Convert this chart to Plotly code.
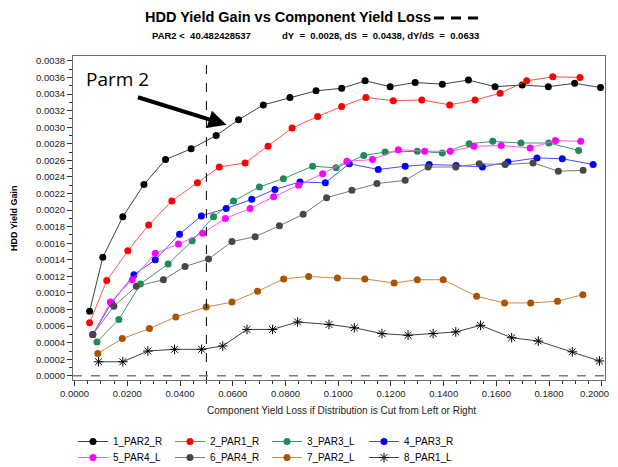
import plotly.graph_objects as go

# ---------------- data ----------------
names = ["1_PAR2_R", "2_PAR1_R", "3_PAR3_L", "4_PAR3_R",
         "5_PAR4_L", "6_PAR4_R", "7_PAR2_L", "8_PAR1_L"]

x1 = [0.0057, 0.0107, 0.0183, 0.0263, 0.0345, 0.0442, 0.0537, 0.0622, 0.0716, 0.0817, 0.0916,
      0.1013, 0.1102, 0.1197, 0.1292, 0.1395, 0.1494, 0.1595, 0.1698, 0.1797, 0.1897, 0.1995]
y1 = [0.00078, 0.00143, 0.00192, 0.00231, 0.00261, 0.00274, 0.00290, 0.00309, 0.00327, 0.00336, 0.00344,
      0.00347, 0.00356, 0.00349, 0.00354, 0.00352, 0.00357, 0.00349, 0.00351, 0.00349, 0.00353, 0.00348]

x2 = [0.0057, 0.0122, 0.0202, 0.0281, 0.0369, 0.0466, 0.0549, 0.0647, 0.0734, 0.0825, 0.0922,
      0.1013, 0.1105, 0.1209, 0.1317, 0.1423, 0.1519, 0.1614, 0.1715, 0.1814, 0.1917]
y2 = [0.00064, 0.00115, 0.00151, 0.00182, 0.00211, 0.00233, 0.00252, 0.00257, 0.00277, 0.00299, 0.00313,
      0.00325, 0.00336, 0.00332, 0.00333, 0.00327, 0.00333, 0.00341, 0.00356, 0.00361, 0.00360]

x3 = [0.0085, 0.0168, 0.0250, 0.0355, 0.0446, 0.0527, 0.0603, 0.0701, 0.0792, 0.0903,
      0.0992, 0.1097, 0.1178, 0.1300, 0.1395, 0.1497, 0.1586, 0.1693, 0.1799, 0.1912]
y3 = [0.00041, 0.00068, 0.00111, 0.00135, 0.00163, 0.00192, 0.00211, 0.00228, 0.00238, 0.00253,
      0.00251, 0.00266, 0.00270, 0.00271, 0.00269, 0.00280, 0.00283, 0.00281, 0.00281, 0.00272]

x4 = [0.0069, 0.0140, 0.0225, 0.0306, 0.0398, 0.0481, 0.0575, 0.0672, 0.0760, 0.0855, 0.0951,
      0.1042, 0.1152, 0.1254, 0.1345, 0.1447, 0.1547, 0.1644, 0.1754, 0.1850, 0.1967]
y4 = [0.00050, 0.00088, 0.00122, 0.00140, 0.00171, 0.00193, 0.00202, 0.00213, 0.00225, 0.00234, 0.00233,
      0.00256, 0.00249, 0.00253, 0.00255, 0.00254, 0.00252, 0.00258, 0.00263, 0.00262, 0.00255]

x5 = [0.0069, 0.0136, 0.0219, 0.0306, 0.0394, 0.0486, 0.0572, 0.0666, 0.0755, 0.0850, 0.0941,
      0.1033, 0.1130, 0.1228, 0.1328, 0.1425, 0.1515, 0.1618, 0.1728, 0.1824, 0.1920]
y5 = [0.00050, 0.00089, 0.00116, 0.00148, 0.00159, 0.00172, 0.00190, 0.00202, 0.00216, 0.00230, 0.00244,
      0.00259, 0.00261, 0.00273, 0.00271, 0.00271, 0.00277, 0.00278, 0.00275, 0.00284, 0.00283]

x6 = [0.0069, 0.0149, 0.0234, 0.0337, 0.0419, 0.0508, 0.0597, 0.0685, 0.0777, 0.0867, 0.0956,
      0.1052, 0.1147, 0.1254, 0.1341, 0.1446, 0.1535, 0.1633, 0.1739, 0.1835, 0.1929]
y6 = [0.00050, 0.00084, 0.00108, 0.00116, 0.00132, 0.00141, 0.00162, 0.00168, 0.00181, 0.00195, 0.00215,
      0.00224, 0.00232, 0.00236, 0.00252, 0.00252, 0.00256, 0.00255, 0.00257, 0.00247, 0.00248]

x7 = [0.0088, 0.0181, 0.0284, 0.0384, 0.0499, 0.0597, 0.0694, 0.0793, 0.0888, 0.0997,
      0.1101, 0.1212, 0.1300, 0.1398, 0.1525, 0.1631, 0.1730, 0.1832, 0.1928]
y7 = [0.00027, 0.00045, 0.00057, 0.00071, 0.00083, 0.00089, 0.00102, 0.00117, 0.00120, 0.00118,
      0.00117, 0.00112, 0.00116, 0.00116, 0.00096, 0.00088, 0.00088, 0.00090, 0.00098]

x8 = [0.0091, 0.0183, 0.0278, 0.0379, 0.0482, 0.0562, 0.0654, 0.0751, 0.0846, 0.0965,
      0.1061, 0.1166, 0.1265, 0.1360, 0.1446, 0.1540, 0.1658, 0.1759, 0.1888, 0.1991]
y8 = [0.00017, 0.00017, 0.00030, 0.00032, 0.00032, 0.00036, 0.00056, 0.00056, 0.00065, 0.00062,
      0.00058, 0.00051, 0.00049, 0.00051, 0.00053, 0.00061, 0.00046, 0.00042, 0.00029, 0.00018]

x_ticks = [0.0, 0.02, 0.04, 0.06, 0.08, 0.10, 0.12, 0.14, 0.16, 0.18, 0.20]
y_ticks = [i * 0.0002 for i in range(20)]
cutoff_x = 0.05
arrow_target = (0.0576, 0.00303)

title = "HDD Yield Gain vs Component Yield Loss"
NB = "\u00a0"
sub_left = "PAR2 &lt;" + NB * 2 + "40.482428537"
sub_right = ("dY" + NB * 2 + "=" + NB * 2 + "0.0028," + NB + "dS" + NB * 2 + "=" + NB * 2 +
             "0.0438," + NB + "dY/dS" + NB * 2 + "=" + NB * 2 + "0.0633")
x_title = "Component Yield Loss if Distribution is Cut from Left or Right"
y_title = "HDD Yield Gain"

# ---------------- styles ----------------
xs = [x1, x2, x3, x4, x5, x6, x7, x8]
ys = [y1, y2, y3, y4, y5, y6, y7, y8]
marker_colors = ["#000000", "#ff0000", "#1f8a57", "#0000ff",
                 "#ff00ff", "#474747", "#a95400", "#000000"]
line_colors = ["#404040", "#ff5050", "#3a9a6a", "#4a4aff",
               "#ff55ff", "#7a7a7a", "#c98a4a", "#404040"]

FONT = "Liberation Sans, Arial, sans-serif"

fig = go.Figure()
for i in range(8):
    star = (i == 7)
    fig.add_trace(go.Scatter(
        x=xs[i], y=ys[i], name=names[i], mode="lines+markers",
        line=dict(color=line_colors[i], width=1),
        marker=dict(
            color=marker_colors[i],
            size=8 if star else 7,
            symbol="asterisk-open" if star else "circle",
            line=dict(color=marker_colors[i], width=1 if star else 0),
        ),
        legend="legend" if i < 4 else "legend2",
    ))

# the page body adds an 8px offset; positions below are given in page pixels
OFF = 8
W, H = 618 - OFF, 467 - OFF
L, R = 73 - OFF, 13
T = 56 - OFF
B = H - (380 - OFF)
pw, ph = W - L - R, H - T - B

def px_x(p):
    return (p - OFF - L) / pw

def px_y(p):
    return (H - B - (p - OFF)) / ph

TICKFONT = dict(family=FONT, size=9.5, color="#222222")
axis_common = dict(
    showgrid=False, zeroline=False, showline=True, mirror=True,
    linecolor="#6e6e6e", linewidth=1, ticks="outside", ticklen=5,
    tickcolor="#333333", tickfont=TICKFONT,
)

# last x label would overflow the page edge; it is drawn as an annotation nudged left
x_ticktext = [f"{v:.4f}" for v in x_ticks[:-1]] + [""]

legend_common = dict(orientation="h", x=px_x(73), xanchor="left", yanchor="top",
                     entrywidth=52, entrywidthmode="pixels",
                     font=dict(family=FONT, size=10, color="#000000"),
                     bgcolor="rgba(0,0,0,0)", itemwidth=30, traceorder="normal")

fig.update_layout(
    width=W, height=H,
    margin=dict(l=L, r=R, t=T, b=B, autoexpand=False),
    paper_bgcolor="white", plot_bgcolor="white",
    font=dict(family=FONT, color="#000000"),
    xaxis=dict(range=[-0.0006, 0.2012], tickvals=x_ticks, ticktext=x_ticktext,
               minor=dict(dtick=0.005, tick0=0, ticks="outside", ticklen=3, tickcolor="#333333"),
               **axis_common),
    yaxis=dict(range=[-0.00005, 0.00386], tickvals=y_ticks, tickformat=".4f",
               minor=dict(dtick=0.0001, tick0=0, ticks="outside", ticklen=3, tickcolor="#333333"),
               **axis_common),
    showlegend=True,
    legend=dict(y=px_y(427), **legend_common),
    legend2=dict(y=px_y(443), **legend_common),
)

# reference lines
fig.add_shape(type="line", xref="x", yref="paper", x0=cutoff_x, x1=cutoff_x, y0=0, y1=1,
              line=dict(color="#000000", width=1, dash="dash"))
fig.add_shape(type="line", xref="paper", yref="y", x0=0, x1=1, y0=0, y1=0,
              line=dict(color="#7a7a7a", width=1.5, dash="dash"))
# dashed line sample in title
fig.add_shape(type="line", xref="paper", yref="paper", x0=px_x(434), x1=px_x(478),
              y0=px_y(18), y1=px_y(18), line=dict(color="#000000", width=3, dash="10px,7px"))

ann = []
ann.append(dict(text=f"{x_ticks[-1]:.4f}", xref="x", yref="paper", x=x_ticks[-1], y=px_y(393),
                xanchor="center", yanchor="middle", xshift=-7, showarrow=False, font=TICKFONT))
ann.append(dict(text="<b>" + title + "</b>", xref="paper", yref="paper",
                x=px_x(288), y=px_y(17), xanchor="center", yanchor="middle", showarrow=False,
                font=dict(family=FONT, size=14.5, color="#000000")))
ann.append(dict(text="<b>" + sub_left + "</b>", xref="paper", yref="paper",
                x=px_x(150), y=px_y(36), xanchor="left", yanchor="middle", showarrow=False,
                font=dict(family=FONT, size=9.5, color="#000000")))
ann.append(dict(text="<b>" + sub_right + "</b>", xref="paper", yref="paper",
                x=px_x(280), y=px_y(36), xanchor="left", yanchor="middle", showarrow=False,
                font=dict(family=FONT, size=9.5, color="#000000")))
ann.append(dict(text=x_title, xref="paper", yref="paper",
                x=px_x(341), y=px_y(410), xanchor="center", yanchor="middle", showarrow=False,
                font=dict(family=FONT, size=10, color="#222222")))
ann.append(dict(text="<b>" + y_title + "</b>", xref="paper", yref="paper", textangle=-90,
                x=px_x(14), y=0.5, xanchor="center", yanchor="middle", showarrow=False,
                font=dict(family=FONT, size=9, color="#000000")))
ann.append(dict(text="Parm 2", xref="paper", yref="paper",
                x=px_x(84), y=px_y(79), xanchor="left", yanchor="middle", showarrow=False,
                font=dict(family="Open Sans, Noto Sans, sans-serif", size=19, color="#000000")))
ann.append(dict(text="", x=arrow_target[0], y=arrow_target[1], xref="x", yref="y",
                showarrow=True, ax=-90, ay=-28, axref="pixel", ayref="pixel",
                arrowhead=2, arrowsize=0.9, arrowwidth=4, arrowcolor="#000000"))
fig.update_layout(annotations=ann)

fig.write_html("out.html")
